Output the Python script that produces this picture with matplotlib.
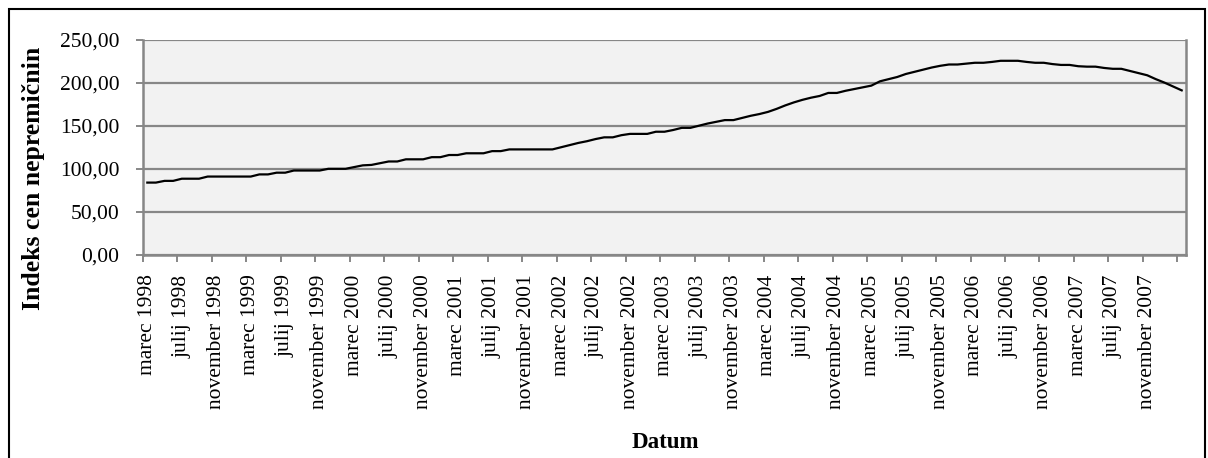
import matplotlib
matplotlib.use('Agg')
import matplotlib.pyplot as plt
from matplotlib.patches import Rectangle
import numpy as np

# monthly index, marec 1998 .. marec 2008
index_values = [
    84, 84, 86, 86, 88.5, 88.5, 88.5, 91, 91, 91,
    91, 91, 91, 93.5, 93.5, 95.5, 95.5, 98, 98, 98,
    98, 100, 100, 100, 102, 104, 104.5, 106.5, 108.5, 108.5,
    111, 111, 111, 113.5, 113.5, 116, 116, 118, 118, 118,
    120.5, 120.5, 122.5, 122.5, 122.5, 122.5, 122.5, 122.5, 125, 127.5,
    130, 132, 134.5, 136.5, 136.5, 139, 140.5, 140.5, 140.5, 143,
    143, 145, 147.5, 147.5, 150, 152.5, 154.5, 156.5, 156.5, 159,
    161.5, 163.5, 166, 169.5, 173.5, 177, 180, 182.5, 184.5, 188,
    188, 190.5, 192.5, 194.5, 196.5, 201.5, 204, 206.5, 210, 212.5,
    215, 217.5, 219.5, 221, 221, 222, 223, 223, 224, 225.3,
    225.3, 225.3, 224, 223, 223, 221.5, 220.5, 220.5, 219, 218.5,
    218.5, 217, 216, 216, 213.5, 211, 208.5, 204, 200, 195.5,
    191,
]
month_names = ['januar', 'februar', 'marec', 'april', 'maj', 'junij',
               'julij', 'avgust', 'september', 'oktober', 'november', 'december']
start_year = 1998
start_month = 3
y_ticks = [0, 50, 100, 150, 200, 250]

labels = []
for i in range(len(index_values)):
    m = start_month - 1 + i
    labels.append(f'{month_names[m % 12]} {start_year + m // 12}')

plt.rcParams['font.family'] = ['Liberation Serif', 'DejaVu Serif']

fig = plt.figure(figsize=(12.08, 4.58), dpi=100)
ax = fig.add_axes([143 / 1208, 1 - 255 / 458, (1186 - 143) / 1208, (255 - 39.5) / 458])
ax.set_facecolor('#f2f2f2')

x = np.arange(len(index_values))
ax.plot(x, index_values, color='black', linewidth=1.6, zorder=3)

ax.set_xlim(-0.5, len(index_values) - 0.5)
ax.set_ylim(0, 250)

grid_col = '#878787'
ax.set_yticks(y_ticks)
ax.set_yticklabels([f'{v:.2f}'.replace('.', ',') for v in y_ticks], fontsize=15.5)
ax.yaxis.grid(True, color=grid_col, linewidth=1.6, zorder=1)

# tick marks between categories, a label on every 4th month (last month unlabelled)
ax.set_xticks(np.arange(-0.5, len(index_values), 4))
ax.set_xticklabels([])
label_pos = x[:-1][::4]
ax.set_xticks(label_pos, minor=True)
ax.set_xticklabels([labels[i] for i in label_pos], minor=True, rotation=90, fontsize=15.5)
ax.tick_params(axis='x', which='minor', length=0, pad=14)
ax.tick_params(axis='x', which='major', length=5, width=1.4, color=grid_col)
ax.tick_params(axis='y', length=5, width=1.4, color=grid_col, pad=12)

for side in ['left', 'bottom', 'right']:
    ax.spines[side].set_color(grid_col)
    ax.spines[side].set_linewidth(1.8)
ax.spines['top'].set_visible(False)

fig.text(34 / 1208, 1 - 178 / 458, 'Indeks cen nepremičnin', rotation=90,
         fontsize=18.5, fontweight='bold', ha='center', va='center')
fig.text(665 / 1208, 1 - 443 / 458, 'Datum', fontsize=16.5,
         fontweight='bold', ha='center', va='center')

fig.patches.append(Rectangle((9 / 1208, -0.01), 1196 / 1208, 1 - 9 / 458 + 0.01,
                             transform=fig.transFigure, fill=False,
                             edgecolor='black', linewidth=1.5))

fig.savefig('out.png', dpi=100)
